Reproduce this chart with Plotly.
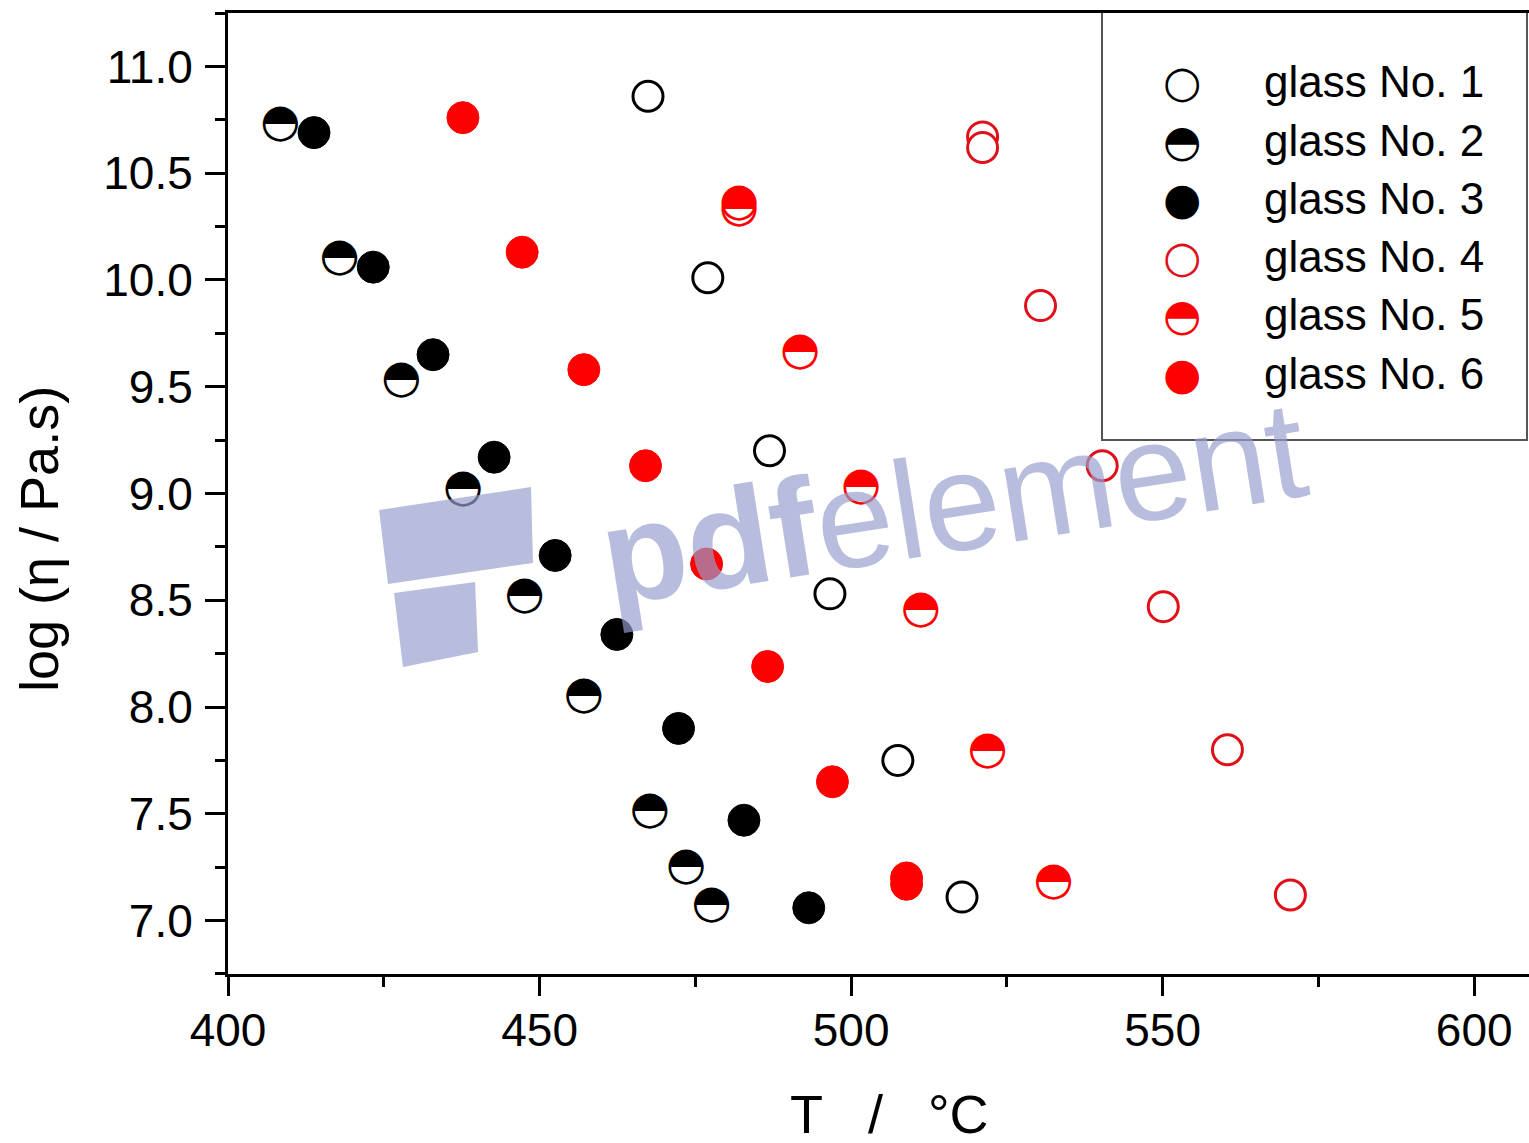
import plotly.graph_objects as go

# ---------------- data ----------------
t1 = [467.4, 477.0, 486.9, 496.6, 507.5, 517.8]
v1 = [10.86, 10.01, 9.20, 8.53, 7.75, 7.11]

t2 = [408.4, 417.9, 427.8, 437.7, 447.6, 457.1, 467.7, 473.5, 477.6]
v2 = [10.73, 10.10, 9.53, 9.02, 8.52, 8.05, 7.51, 7.25, 7.07]

t3 = [413.8, 423.3, 432.9, 442.7, 452.5, 462.4, 472.3, 482.8, 493.2]
v3 = [10.69, 10.06, 9.65, 9.17, 8.71, 8.34, 7.90, 7.47, 7.06]

t4 = [521.1, 521.1, 530.4, 540.3, 550.1, 560.4, 570.5]
v4 = [10.67, 10.62, 9.88, 9.13, 8.47, 7.80, 7.12]

t5 = [482.0, 482.0, 491.8, 501.6, 511.2, 521.9, 532.5]
v5 = [10.36, 10.33, 9.66, 9.03, 8.45, 7.79, 7.18]

t6 = [437.7, 447.2, 457.1, 467.0, 476.8, 486.6, 497.0, 508.9, 508.9]
v6 = [10.76, 10.13, 9.58, 9.13, 8.67, 8.19, 7.65, 7.20, 7.17]

legend_labels = ["glass No. 1", "glass No. 2", "glass No. 3",
                 "glass No. 4", "glass No. 5", "glass No. 6"]
x_ticks = [400, 450, 500, 550, 600]
y_ticks = [7.0, 7.5, 8.0, 8.5, 9.0, 9.5, 10.0, 10.5, 11.0]

BLACK = "#000000"
RED = "#ff0000"
RED_LINE = "#e0101a"
HALF_GLYPH = "\u25D3"
GLYPH_FONT = "DejaVu Sans"
GLYPH_SIZE = 46
TXT_FONT = "Liberation Sans, Arial, sans-serif"

W, H = 1529, 1143
ML, MR, MT, MB = 228, 0, 13, 169
PW, PH = W - ML - MR, H - MT - MB


def px(xp):
    return (xp - ML) / PW


def py(yp):
    return (H - MB - yp) / PH


fig = go.Figure()


def open_trace(x, y, col, name):
    fig.add_trace(go.Scatter(x=x, y=y, mode="markers", name=name, showlegend=False,
                             marker=dict(symbol="circle", size=30, color="white",
                                         line=dict(color=col, width=3))))


def full_trace(x, y, col, name):
    fig.add_trace(go.Scatter(x=x, y=y, mode="markers", name=name, showlegend=False,
                             marker=dict(symbol="circle", size=32, color=col,
                                         line=dict(color=col, width=1))))


def half_trace(x, y, col, name):
    fig.add_trace(go.Scatter(x=x, y=y, mode="text", name=name, showlegend=False,
                             text=[HALF_GLYPH] * len(x), textposition="middle center",
                             textfont=dict(family=GLYPH_FONT, size=GLYPH_SIZE, color=col)))


open_trace(t1, v1, BLACK, legend_labels[0])
half_trace(t2, v2, BLACK, legend_labels[1])
full_trace(t3, v3, BLACK, legend_labels[2])
open_trace(t4, v4, RED_LINE, legend_labels[3])
half_trace(t5, v5, RED, legend_labels[4])
full_trace(t6, v6, RED, legend_labels[5])

annotations = []
shapes = []

# ---------------- manual legend ----------------
shapes.append(dict(type="rect", xref="paper", yref="paper",
                   x0=px(1102), x1=px(1527), y0=py(440), y1=py(12),
                   line=dict(color="#555555", width=2), fillcolor="white", layer="below"))
legend_glyphs = ["\u25CB", HALF_GLYPH, "\u25CF", "\u25CB", HALF_GLYPH, "\u25CF"]
legend_colors = [BLACK, BLACK, BLACK, RED_LINE, RED, RED]
row0, drow = 81.7, 58.3
for i, lab in enumerate(legend_labels):
    yy = row0 + i * drow
    annotations.append(dict(xref="paper", yref="paper", x=px(1182), y=py(yy),
                            text=legend_glyphs[i], showarrow=False,
                            xanchor="center", yanchor="middle",
                            font=dict(family=GLYPH_FONT, size=44, color=legend_colors[i])))
    annotations.append(dict(xref="paper", yref="paper", x=px(1262), y=py(yy),
                            text=lab, showarrow=False, xanchor="left", yanchor="middle",
                            font=dict(family=TXT_FONT, size=44, color="black")))

# ---------------- axis titles ----------------
annotations.append(dict(xref="paper", yref="paper", x=px(889.5), y=py(1114),
                        text="T\u00a0\u00a0\u00a0/\u00a0\u00a0\u00a0\u00b0C", showarrow=False,
                        xanchor="center", yanchor="middle",
                        font=dict(family=TXT_FONT, size=54, color="black")))
annotations.append(dict(xref="paper", yref="paper", x=px(39), y=py(539),
                        text="log (\u03b7 / Pa.s)", showarrow=False, textangle=-90,
                        xanchor="center", yanchor="middle",
                        font=dict(family=TXT_FONT, size=54, color="black")))

# ---------------- watermark ----------------
WM = "rgba(150,158,205,0.68)"
annotations.append(dict(xref="paper", yref="paper", x=px(953), y=py(503),
                        text="<b>pdf</b>element", showarrow=False, textangle=-9,
                        xanchor="center", yanchor="middle",
                        font=dict(family="Liberation Sans, Arial, sans-serif", size=139, color=WM)))


def poly(pts):
    return "M " + " L ".join(f"{px(a):.4f},{py(b):.4f}" for a, b in pts) + " Z"


shapes.append(dict(type="path", xref="paper", yref="paper", layer="above",
                   path=poly([(379, 510), (531, 487), (533, 563), (388, 584)]),
                   fillcolor=WM, line=dict(width=0)))
shapes.append(dict(type="path", xref="paper", yref="paper", layer="above",
                   path=poly([(394, 593), (475, 582), (478, 652), (403, 667)]),
                   fillcolor=WM, line=dict(width=0)))

axis_common = dict(showgrid=False, zeroline=False, showline=True, linecolor="black",
                   linewidth=3, ticks="outside", tickcolor="black", tickwidth=3,
                   tickfont=dict(family=TXT_FONT, size=46, color="black"))

fig.update_layout(
    width=W, height=H,
    margin=dict(l=ML, r=MR, t=MT, b=MB, pad=0),
    paper_bgcolor="white", plot_bgcolor="white",
    showlegend=False,
    xaxis=dict(range=[399.99, 608.8], tickvals=x_ticks, ticklen=19, mirror=True,
               ticklabelstandoff=-5,
               minor=dict(dtick=25, tick0=400, ticks="outside", ticklen=10,
                          tickwidth=3, tickcolor="black"),
               **axis_common),
    yaxis=dict(range=[6.7499, 11.2501], tickvals=y_ticks, tickformat=".1f", ticklen=20,
               ticklabelstandoff=3,
               minor=dict(dtick=0.25, tick0=6.75, ticks="outside", ticklen=10,
                          tickwidth=3, tickcolor="black"),
               **axis_common),
    annotations=annotations,
    shapes=shapes,
)

fig.write_html("out.html", config={"displayModeBar": False},
               post_script="document.body.style.margin='0px';")
